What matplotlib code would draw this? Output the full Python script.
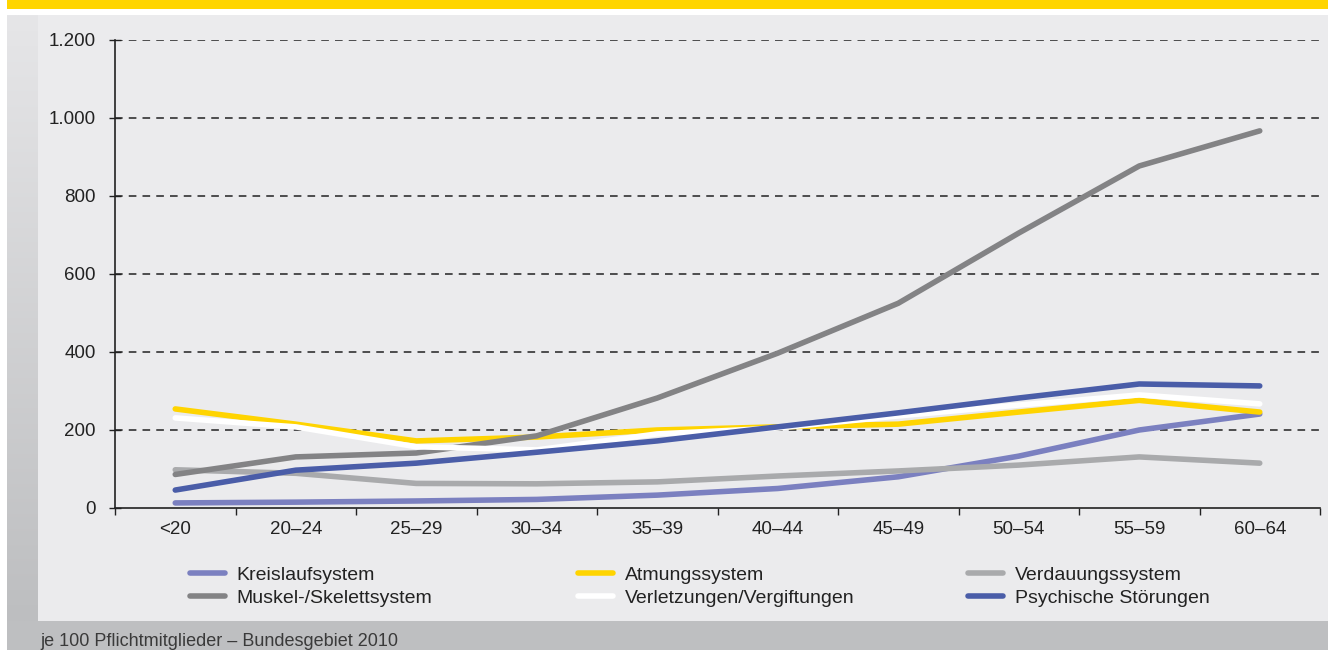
import numpy as np
import matplotlib
matplotlib.use("Agg")
import matplotlib.pyplot as plt
from matplotlib.patches import Rectangle
from matplotlib.lines import Line2D
from matplotlib.colors import LinearSegmentedColormap

plt.rcParams['font.family'] = ['Liberation Sans', 'DejaVu Sans']

categories = ["<20", "20\u201324", "25\u201329", "30\u201334", "35\u201339",
              "40\u201344", "45\u201349", "50\u201354", "55\u201359", "60\u201364"]

kreislauf   = [13, 15, 18, 22, 33, 50, 80, 133, 200, 241]
atmung      = [254, 215, 172, 182, 200, 208, 215, 246, 276, 246]
verdauung   = [98, 89, 63, 62, 67, 82, 95, 110, 131, 115]
muskel      = [86, 131, 141, 185, 282, 397, 525, 705, 877, 967]
verletzung  = [231, 208, 157, 149, 190, 205, 236, 264, 290, 267]
psychisch   = [46, 97, 115, 143, 172, 208, 244, 282, 318, 313]

series = [
    ("Kreislaufsystem", kreislauf, "#7b80c0"),
    ("Atmungssystem", atmung, "#ffd400"),
    ("Verdauungssystem", verdauung, "#a9aaac"),
    ("Muskel-/Skelettsystem", muskel, "#838385"),
    ("Verletzungen/Vergiftungen", verletzung, "#ffffff"),
    ("Psychische St\u00f6rungen", psychisch, "#4a5da8"),
]

y_ticks = [0, 200, 400, 600, 800, 1000, 1200]
y_ticklabels = ["0", "200", "400", "600", "800", "1.000", "1.200"]
footer = "je 100 Pflichtmitglieder \u2013 Bundesgebiet 2010"

W, H = 1328, 650
fig = plt.figure(figsize=(W / 100, H / 100), dpi=100)
fig.patch.set_facecolor("white")

# background decoration axes (pixel coordinates)
bg = fig.add_axes([0, 0, 1, 1], zorder=0)
bg.axis("off")
bg.add_patch(Rectangle((7, 0), W - 7, 9, color="#ffd500", lw=0))
bg.add_patch(Rectangle((38, 15), W - 38, 606, color="#ebebed", lw=0))
bg.add_patch(Rectangle((7, 621), W - 7, 29, color="#bebfc1", lw=0))
grad = np.linspace(0, 1, 256).reshape(-1, 1)
cmap = LinearSegmentedColormap.from_list("g", ["#e6e6e8", "#bdbec0"])
bg.imshow(grad, cmap=cmap, extent=(7, 38, 621, 15), aspect="auto", zorder=1)
bg.set_xlim(0, W)
bg.set_ylim(H, 0)
bg.text(40, 641, footer, fontsize=13, color="#3a3a3a", va="center", ha="left")

# main axes
left, right = 115 / W, 1320 / W
bottom, top = 1 - 508 / H, 1 - 40 / H
ax = fig.add_axes([left, bottom, right - left, top - bottom], zorder=2)
ax.set_facecolor("none")

x = np.arange(len(categories))
handles = {}
for name, vals, col in series:
    ax.plot(x, vals, color=col, lw=4, solid_capstyle="round",
            solid_joinstyle="round", zorder=3)
    handles[name] = Line2D([0], [0], color=col, lw=4, solid_capstyle="round")

ax.set_xlim(-0.5, len(categories) - 0.5)
ax.set_ylim(0, 1200)
ax.set_yticks(y_ticks)
ax.set_yticklabels(y_ticklabels)
ax.set_xticks(x)
ax.set_xticklabels(categories)
ax.set_xticks(np.arange(len(categories) + 1) - 0.5, minor=True)
ax.tick_params(axis="x", which="major", length=0, labelsize=13.5, pad=9, colors="#222222")
ax.tick_params(axis="x", which="minor", length=5, width=1, direction="out", color="#222222")
ax.tick_params(axis="y", length=8, width=1, direction="inout", labelsize=13.5,
               pad=10, colors="#222222")

for s in ["top", "right"]:
    ax.spines[s].set_visible(False)
for s in ["left", "bottom"]:
    ax.spines[s].set_color("#222222")
    ax.spines[s].set_linewidth(1.2)

for yv in y_ticks[1:]:
    ax.axhline(yv, color="#222222", lw=1.1, ls=(0, (5, 4)), zorder=1)

# legend: three columns, two rows each
cols = [
    (190, ["Kreislaufsystem", "Muskel-/Skelettsystem"]),
    (578, ["Atmungssystem", "Verletzungen/Vergiftungen"]),
    (968, ["Verdauungssystem", "Psychische St\u00f6rungen"]),
]
for xpix, names in cols:
    leg = fig.legend([handles[n] for n in names], names,
                     loc="center left",
                     bbox_to_anchor=(xpix / W, 1 - 586.5 / H),
                     frameon=False, fontsize=14, handlelength=1.8,
                     handletextpad=0.6, labelspacing=0.3,
                     borderpad=0, borderaxespad=0)
    for t in leg.get_texts():
        t.set_color("#222222")

fig.savefig("out.png", dpi=100, facecolor=fig.get_facecolor())
